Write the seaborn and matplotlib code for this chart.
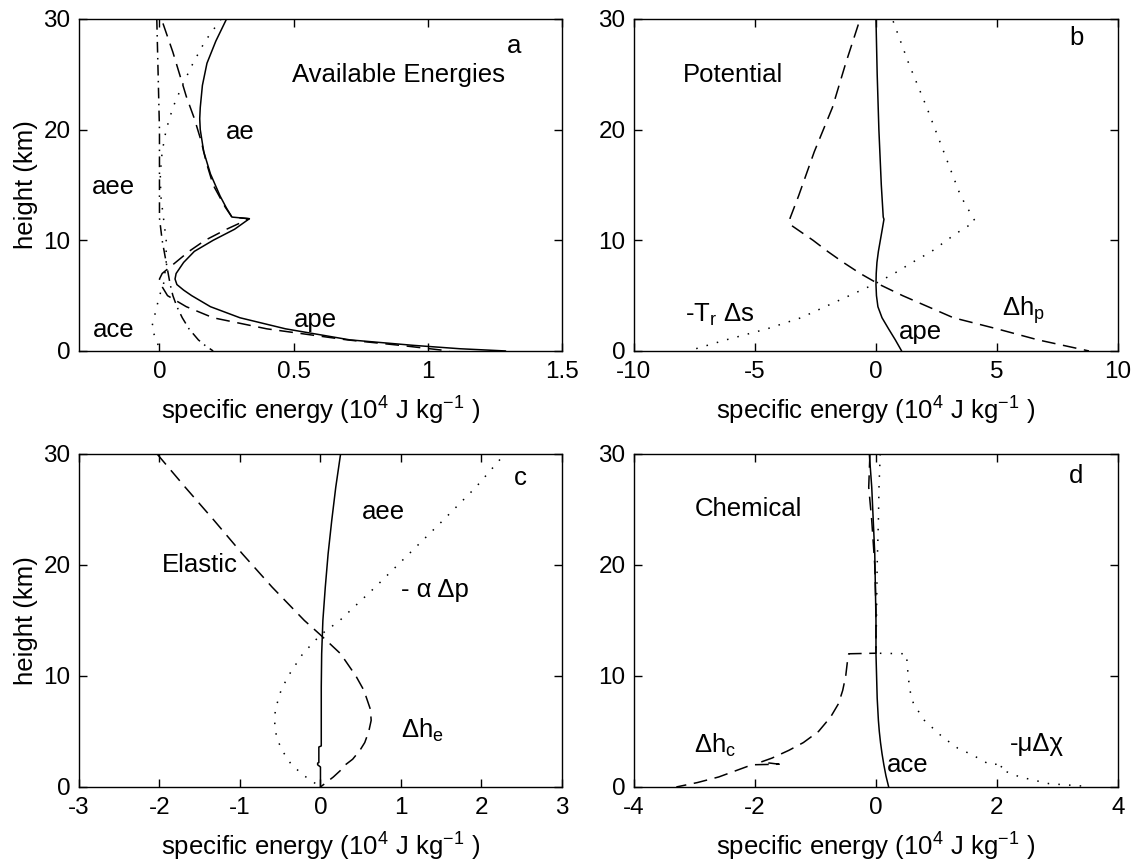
import numpy as np
import matplotlib
matplotlib.use("Agg")
import matplotlib.pyplot as plt
import seaborn as sns

# ---- panel a: available energies ----
ae_z = [30, 28, 26, 24, 22, 21, 20, 18, 16, 14, 12.9, 12.1, 11.95, 11, 10, 9, 8, 7, 6.5, 6, 5.5, 5, 4, 3, 2, 1, 0.5, 0.2, 0]
ae_x = [0.25, 0.21, 0.177, 0.16, 0.152, 0.15, 0.152, 0.165, 0.19, 0.226, 0.25, 0.27, 0.335, 0.28, 0.2, 0.13, 0.09, 0.062, 0.058, 0.065, 0.09, 0.12, 0.19, 0.30, 0.47, 0.71, 0.95, 1.12, 1.29]

ape_a_z = [29.6, 27, 25, 23, 21, 19, 17, 15, 13, 12.1, 11.95, 11, 10, 9, 8, 7, 6.5, 6, 5, 4, 3, 2, 1, 0.5, 0]
ape_a_x = [0.013, 0.05, 0.075, 0.1, 0.13, 0.155, 0.175, 0.2, 0.245, 0.27, 0.335, 0.25, 0.17, 0.11, 0.06, 0.01, 0.0, 0.005, 0.03, 0.1, 0.2, 0.4, 0.7, 0.9, 1.08]

aee_a_z = [30, 28, 26, 24, 22, 20, 18, 16, 14, 12, 10, 8, 6, 5, 4, 3, 2, 1, 0]
aee_a_x = [0.23, 0.17, 0.125, 0.085, 0.05, 0.025, 0.01, 0.003, 0.005, 0.015, 0.025, 0.025, 0.015, 0.0, -0.01, -0.02, -0.03, -0.01, 0.0]

ace_a_z = [30, 25, 20, 15, 12, 10, 8, 6, 5, 4, 3, 2, 1, 0.5, 0]
ace_a_x = [-0.01, -0.005, 0.0, 0.0, 0.0, 0.01, 0.025, 0.04, 0.05, 0.065, 0.085, 0.11, 0.145, 0.17, 0.2]

# ---- panel b: potential ----
dhp_z = [29.5, 26, 22, 18, 14, 12.0, 11.4, 10, 9, 8, 7, 6, 5, 4, 3, 2, 1, 0]
dhp_x = [-0.73, -1.25, -1.8, -2.55, -3.2, -3.55, -3.53, -2.6, -2.0, -1.35, -0.65, 0.15, 1.1, 2.15, 3.2, 5.0, 6.7, 8.8]

ts_z = [29.8, 26, 22, 18, 14, 11.7, 10.6, 9, 8, 7, 6, 5, 4, 3, 2, 1, 0.1]
ts_x = [0.71, 1.35, 2.1, 2.8, 3.5, 4.1, 3.3, 2.3, 1.5, 0.75, -0.1, -1.1, -2.1, -3.1, -4.5, -6.2, -7.6]

ape_b_z = [30, 25, 20, 15, 12.1, 11.9, 11, 10, 9, 8, 7, 6, 5, 4, 3, 2, 1, 0]
ape_b_x = [0.0, 0.05, 0.12, 0.22, 0.3, 0.33, 0.26, 0.18, 0.1, 0.04, 0.01, 0.0, 0.02, 0.08, 0.25, 0.52, 0.8, 1.06]

# ---- panel c: elastic ----
dhe_z = [30, 27, 24, 21, 18, 15, 13.7, 12, 10, 8.7, 7, 6, 5, 4, 3.3, 2.5, 2.0, 1.5, 0.9, 0]
dhe_x = [-2.03, -1.68, -1.32, -0.97, -0.6, -0.2, 0.0, 0.25, 0.44, 0.54, 0.62, 0.63, 0.6, 0.55, 0.49, 0.4, 0.31, 0.25, 0.16, 0.0]

alp_z = [29.5, 27, 24, 21, 18, 15, 13.7, 12, 10, 8.7, 7, 6, 5, 4, 3, 2, 1, 0.4, 0]
alp_x = [2.23, 1.93, 1.52, 1.1, 0.68, 0.24, 0.0, -0.22, -0.4, -0.49, -0.56, -0.57, -0.56, -0.52, -0.45, -0.36, -0.2, -0.08, 0.0]

aee_c_z = [30, 27, 24, 21, 18, 15, 12, 9, 6, 3.7, 3.6, 2.2, 2.15, 2.0, 1.8, 0]
aee_c_x = [0.25, 0.19, 0.14, 0.095, 0.06, 0.03, 0.015, 0.01, 0.01, 0.01, -0.02, -0.02, -0.035, -0.035, 0.0, 0.0]

# ---- panel d: chemical ----
ace_d_z = [30, 27, 24, 21, 18, 15, 12, 10, 8, 6, 5, 4, 3, 2, 1, 0]
ace_d_x = [-0.11, -0.07, -0.045, -0.02, -0.01, 0.0, 0.0, 0.01, 0.02, 0.04, 0.055, 0.075, 0.1, 0.13, 0.165, 0.21]

dhc_z = [30, 27, 24, 20, 16, 12.05, 12.0, 11.4, 10, 8.7, 7.5, 6.3, 5, 4, 3.3, 2.6, 2.25, 2.05, 2.0, 1.5, 0.9, 0.4, 0]
dhc_x = [-0.1, -0.12, -0.07, -0.02, 0.0, 0.0, -0.45, -0.47, -0.5, -0.55, -0.62, -0.75, -0.95, -1.2, -1.44, -1.72, -1.9, -1.6, -2.05, -2.3, -2.6, -2.95, -3.3]

mux_z = [30, 27, 24, 20, 16, 12.05, 12.0, 11, 10, 8.5, 7.5, 6, 4.5, 3.5, 2.9, 2.2, 2.0, 2.1, 1.6, 0.9, 0.3, 0.06]
mux_x = [0.07, 0.05, 0.04, 0.02, 0.01, 0.0, 0.5, 0.52, 0.53, 0.57, 0.62, 0.8, 1.1, 1.35, 1.59, 1.82, 1.88, 2.1, 2.05, 2.38, 2.86, 3.47]

DASHED = (0, (9, 5))
DOTTED = (0, (1, 6))
DASHDOT = (0, (7, 3.5, 1, 3.5))

sns.set_style("white")
plt.rcParams["font.family"] = ["Liberation Sans", "DejaVu Sans"]
plt.rcParams["mathtext.fontset"] = "custom"
plt.rcParams["mathtext.rm"] = "Liberation Sans"
plt.rcParams["mathtext.it"] = "Liberation Sans:italic"
plt.rcParams["axes.unicode_minus"] = False
for key in ["text.color", "axes.labelcolor", "xtick.color", "ytick.color", "axes.edgecolor"]:
    plt.rcParams[key] = "black"

XLABEL = r"specific energy (10$^{\mathrm{4}}$ J kg$^{\mathrm{-1}}$ )"
TXT = 18.5
FS = 17.5


def draw(ax, x, z, ls):
    sns.lineplot(x=x, y=z, sort=False, estimator=None, color="k",
                 linewidth=1.1, linestyle=ls, ax=ax)


def style_axes(ax, xlim, xticks, ylabel=True):
    ax.set_xlim(*xlim)
    ax.set_ylim(0, 30)
    ax.set_xticks(xticks)
    ax.set_xticklabels([f"{t:g}" for t in xticks])
    ax.set_yticks([0, 10, 20, 30])
    ax.tick_params(direction="in", length=6, width=1, labelsize=FS,
                   top=True, right=True, bottom=True, left=True,
                   colors="black")
    ax.tick_params(axis="x", pad=7)
    ax.tick_params(axis="y", pad=6)
    for s in ax.spines.values():
        s.set_linewidth(1.0)
        s.set_color("k")
    ax.set_xlabel(XLABEL, fontsize=18.5, labelpad=9, color="black")
    if ylabel:
        ax.set_ylabel("height (km)", fontsize=18.5, labelpad=4, color="black")
    else:
        ax.set_ylabel("")


fig = plt.figure(figsize=(11.38, 8.67), dpi=100)
ax_a = fig.add_axes([0.0694, 0.5952, 0.4244, 0.3829])
ax_b = fig.add_axes([0.5571, 0.5952, 0.4253, 0.3829])
ax_c = fig.add_axes([0.0694, 0.0923, 0.4244, 0.3841])
ax_d = fig.add_axes([0.5571, 0.0923, 0.4253, 0.3841])

# a
draw(ax_a, ae_x, ae_z, "-")
draw(ax_a, ape_a_x, ape_a_z, DASHED)
draw(ax_a, aee_a_x, aee_a_z, DOTTED)
draw(ax_a, ace_a_x, ace_a_z, DASHDOT)
style_axes(ax_a, (-0.3, 1.5), [0, 0.5, 1, 1.5])
ax_a.text(1.32, 27.6, "a", fontsize=TXT, ha="center", va="center")
ax_a.text(0.89, 24.9, "Available Energies", fontsize=TXT, ha="center", va="center")
ax_a.text(0.30, 19.8, "ae", fontsize=TXT, ha="center", va="center")
ax_a.text(-0.17, 14.8, "aee", fontsize=TXT, ha="center", va="center")
ax_a.text(-0.17, 1.9, "ace", fontsize=TXT, ha="center", va="center")
ax_a.text(0.58, 2.8, "ape", fontsize=TXT, ha="center", va="center")

# b
draw(ax_b, ape_b_x, ape_b_z, "-")
draw(ax_b, dhp_x, dhp_z, DASHED)
draw(ax_b, ts_x, ts_z, DOTTED)
style_axes(ax_b, (-10, 10), [-10, -5, 0, 5, 10], ylabel=False)
ax_b.text(8.3, 28.3, "b", fontsize=TXT, ha="center", va="center")
ax_b.text(-5.9, 24.9, "Potential", fontsize=TXT, ha="center", va="center")
ax_b.text(-7.9, 3.3, r"-T$_{\mathrm{r}}$ Δs", fontsize=TXT, ha="left", va="center")
ax_b.text(1.85, 1.75, "ape", fontsize=TXT, ha="center", va="center")
ax_b.text(5.2, 3.7, r"Δh$_{\mathrm{p}}$", fontsize=TXT, ha="left", va="center")

# c
draw(ax_c, aee_c_x, aee_c_z, "-")
draw(ax_c, dhe_x, dhe_z, DASHED)
draw(ax_c, alp_x, alp_z, DOTTED)
style_axes(ax_c, (-3, 3), [-3, -2, -1, 0, 1, 2, 3])
ax_c.text(2.48, 27.8, "c", fontsize=TXT, ha="center", va="center")
ax_c.text(0.78, 24.8, "aee", fontsize=TXT, ha="center", va="center")
ax_c.text(-1.5, 20.0, "Elastic", fontsize=TXT, ha="center", va="center")
ax_c.text(1.0, 17.7, "- α Δp", fontsize=TXT, ha="left", va="center")
ax_c.text(1.0, 5.1, r"Δh$_{\mathrm{e}}$", fontsize=TXT, ha="left", va="center")

# d
draw(ax_d, ace_d_x, ace_d_z, "-")
draw(ax_d, dhc_x, dhc_z, DASHED)
draw(ax_d, mux_x, mux_z, DOTTED)
style_axes(ax_d, (-4, 4), [-4, -2, 0, 2, 4], ylabel=False)
ax_d.text(3.3, 28.0, "d", fontsize=TXT, ha="center", va="center")
ax_d.text(-2.1, 25.0, "Chemical", fontsize=TXT, ha="center", va="center")
ax_d.text(-3.0, 3.75, r"Δh$_{\mathrm{c}}$", fontsize=TXT, ha="left", va="center")
ax_d.text(0.53, 2.0, "ace", fontsize=TXT, ha="center", va="center")
ax_d.text(2.22, 3.9, "-μΔχ", fontsize=TXT, ha="left", va="center")

fig.savefig("out.png", dpi=100)
